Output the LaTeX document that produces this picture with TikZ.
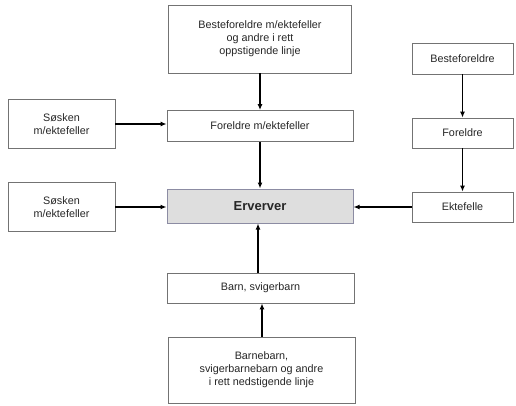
\documentclass[tikz,border=0pt]{standalone}
\usepackage{fontspec}
\setmainfont{Liberation Sans}
\usetikzlibrary{arrows.meta}
\begin{document}
\begin{tikzpicture}[x=1pt,y=-1pt,
  box/.style={draw=black!55,line width=0.8pt,fill=white,align=center,inner sep=2pt,
    font=\fontsize{10.8}{13}\selectfont,text=black!85},
  mainbox/.style={draw=blue!20!black!45,line width=1pt,fill=black!13,align=center,
    font=\fontsize{13}{15}\selectfont\bfseries,text=black!85},
  arr/.style={-{Latex[length=6pt,width=5pt]},line width=1.5pt}]
\useasboundingbox (0,0) rectangle (516,406);
\node[box,minimum width=183pt,minimum height=68pt] (top) at (260,39) {Besteforeldre m/ektefeller\\og andre i rett\\oppstigende linje};
\node[box,minimum width=186pt,minimum height=31pt] (fme) at (260,126) {Foreldre m/ektefeller};
\node[box,minimum width=107pt,minimum height=49pt] (s1) at (61.5,124) {Søsken\\m/ektefeller};
\node[box,minimum width=107pt,minimum height=49pt] (s2) at (61.5,207) {Søsken\\m/ektefeller};
\node[mainbox,minimum width=186pt,minimum height=34pt] (erv) at (260,206) {Erverver};
\node[box,minimum width=101pt,minimum height=31pt] (bf) at (462.5,58.5) {Besteforeldre};
\node[box,minimum width=101pt,minimum height=30pt] (fo) at (462.5,133) {Foreldre};
\node[box,minimum width=101pt,minimum height=30pt] (ek) at (462.5,207) {Ektefelle};
\node[box,minimum width=187pt,minimum height=30pt] (barn) at (260.5,288) {Barn, svigerbarn};
\node[box,minimum width=187pt,minimum height=66pt] (bb) at (261.5,370) {Barnebarn,\\svigerbarnebarn og andre\\i rett nedstigende linje};
\draw[arr] (top.south) -- (fme.north);
\draw[arr] (fme.south) -- (erv.north);
\draw[arr] (s1.east) -- (s1.east -| fme.west);
\draw[arr] (s2.east) -- (s2.east -| erv.west);
\draw[arr] (bf.south) -- (fo.north);
\draw[arr] (fo.south) -- (ek.north);
\draw[arr] (ek.west) -- (ek.west -| erv.east);
\draw[arr] (bb.north -| 262,0) -- (barn.south -| 262,0);
\draw[arr] (barn.north -| 258,0) -- (erv.south -| 258,0);
\end{tikzpicture}
\end{document}
